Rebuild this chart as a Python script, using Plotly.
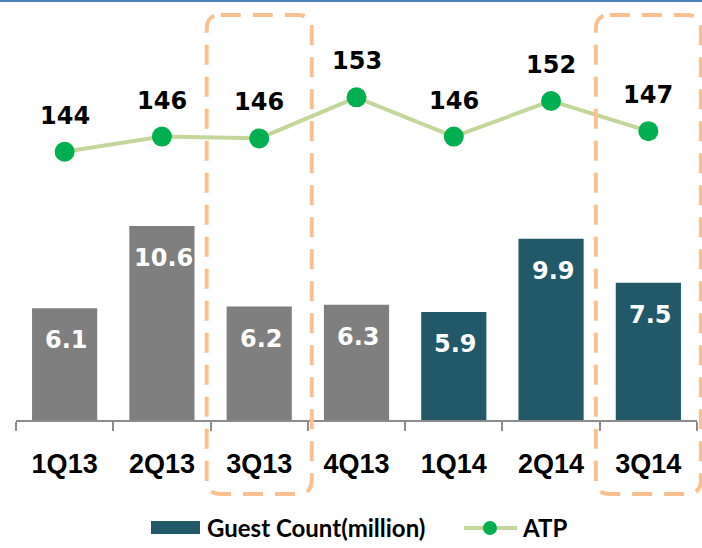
import plotly.graph_objects as go

# ---- data ----
categories = ["1Q13", "2Q13", "3Q13", "4Q13", "1Q14", "2Q14", "3Q14"]
guest_count = [6.1, 10.6, 6.2, 6.3, 5.9, 9.9, 7.5]
atp = [144.0, 146.5, 146.2, 153.0, 146.5, 152.4, 147.4]
highlighted = ["3Q13", "3Q14"]
series_names = ["Guest Count(million)", "ATP"]

GRAY = "#7F7F7F"
TEAL = "#215968"
LINE_C = "#C4D79B"
MARK_C = "#00B050"
ORANGE = "#FAC08F"
AXIS_C = "#8C8C8C"

W, H = 702, 548
ML, MR, MT, MB = 16, 5, 10, 128
PW = W - ML - MR
PH = H - MT - MB


def px(xp):
    return (xp - ML) / PW


def py(yp):
    return (MT + PH - yp) / PH


idx13 = [i for i, c in enumerate(categories) if c.endswith("13")]
idx14 = [i for i, c in enumerate(categories) if c.endswith("14")]

fig = go.Figure()
fig.add_trace(go.Bar(
    x=[categories[i] for i in idx13], y=[guest_count[i] for i in idx13],
    marker=dict(color=GRAY, line=dict(width=0)), width=0.67,
    showlegend=False, hoverinfo="skip", name=series_names[0] + " 2013"))
fig.add_trace(go.Bar(
    x=[categories[i] for i in idx14], y=[guest_count[i] for i in idx14],
    marker=dict(color=TEAL, line=dict(width=0)), width=0.67,
    showlegend=False, name=series_names[0]))
fig.add_trace(go.Scatter(
    x=categories, y=atp, yaxis="y2", mode="lines+markers", name=series_names[1],
    showlegend=False,
    line=dict(color=LINE_C, width=4),
    marker=dict(color=MARK_C, size=20)))

annotations = []
for c, v in zip(categories, guest_count):
    annotations.append(dict(
        x=c, y=v, xref="x", yref="y", text=f"{v:.1f}", showarrow=False,
        yshift=-32, xshift=2,
        font=dict(family="DejaVu Sans", size=24, color="white", weight="bold")))
for c, v in zip(categories, atp):
    annotations.append(dict(
        x=c, y=v, xref="x", yref="y2", text=f"{v:.0f}", showarrow=False,
        yshift=36,
        font=dict(family="DejaVu Sans", size=24, color="black", weight="bold")))

shapes = []
n = len(categories)
rx, ry = 14 / PW, 14 / PH
for c in highlighted:
    i = categories.index(c)
    x0 = (i + 0.5 - 0.54) / n
    x1 = (i + 0.5 + 0.54) / n
    y1 = py(15)
    y0 = py(494)
    path = (f"M{x0+rx},{y1} L{x1-rx},{y1} Q{x1},{y1} {x1},{y1-ry} "
            f"L{x1},{y0+ry} Q{x1},{y0} {x1-rx},{y0} L{x0+rx},{y0} "
            f"Q{x0},{y0} {x0},{y0+ry} L{x0},{y1-ry} Q{x0},{y1} {x0+rx},{y1} Z")
    shapes.append(dict(type="path", path=path, xref="paper", yref="paper",
                       line=dict(color=ORANGE, width=4, dash="20px,12px"),
                       layer="above"))
# thin blue rule at the very top
shapes.append(dict(type="line", xref="paper", yref="paper",
                   x0=px(0), x1=px(W), y0=py(1), y1=py(1),
                   line=dict(color="#4F81BD", width=2)))

# ---- custom legend ----
LEG_Y = 527
shapes.append(dict(type="rect", xref="paper", yref="paper",
                   x0=px(151), x1=px(200), y0=py(534), y1=py(521),
                   fillcolor=TEAL, line=dict(width=0)))
shapes.append(dict(type="line", xref="paper", yref="paper",
                   x0=px(464), x1=px(517), y0=py(LEG_Y + 1), y1=py(LEG_Y + 1),
                   line=dict(color=LINE_C, width=4)))
shapes.append(dict(type="circle", xref="paper", yref="paper",
                   x0=px(483), x1=px(497), y0=py(LEG_Y + 8), y1=py(LEG_Y - 6),
                   fillcolor=MARK_C, line=dict(width=0)))
leg_font = dict(family="Lato", size=24, color="black", weight="bold")
annotations.append(dict(x=px(205), y=py(LEG_Y), xref="paper", yref="paper",
                        xanchor="left", yanchor="middle", showarrow=False,
                        text=series_names[0], font=leg_font))
annotations.append(dict(x=px(520), y=py(LEG_Y), xref="paper", yref="paper",
                        xanchor="left", yanchor="middle", showarrow=False,
                        text=series_names[1], font=leg_font))

fig.update_layout(
    width=W, height=H,
    margin=dict(l=ML, r=MR, t=MT, b=MB),
    paper_bgcolor="white", plot_bgcolor="white",
    barmode="overlay",
    xaxis=dict(type="category", categoryorder="array", categoryarray=categories,
               range=[-0.5, n - 0.5],
               showline=True, linecolor=AXIS_C, linewidth=1.5,
               ticks="outside", tickson="boundaries", ticklen=9,
               tickcolor=AXIS_C, tickwidth=1.5, ticklabelstandoff=19,
               showgrid=False, zeroline=False,
               tickfont=dict(family="Liberation Sans", size=27, color="black",
                             weight="bold")),
    yaxis=dict(range=[0, PH / 18.3], visible=False, showgrid=False),
    yaxis2=dict(range=[144.0 - (420 - 151.7) / 6.04,
                       144.0 - (420 - 151.7) / 6.04 + PH / 6.04],
                overlaying="y", visible=False, showgrid=False),
    annotations=annotations,
    shapes=shapes,
    showlegend=False,
)

fig.write_html("out.html",
               config={"displayModeBar": False},
               post_script="document.body.style.margin='0';")
